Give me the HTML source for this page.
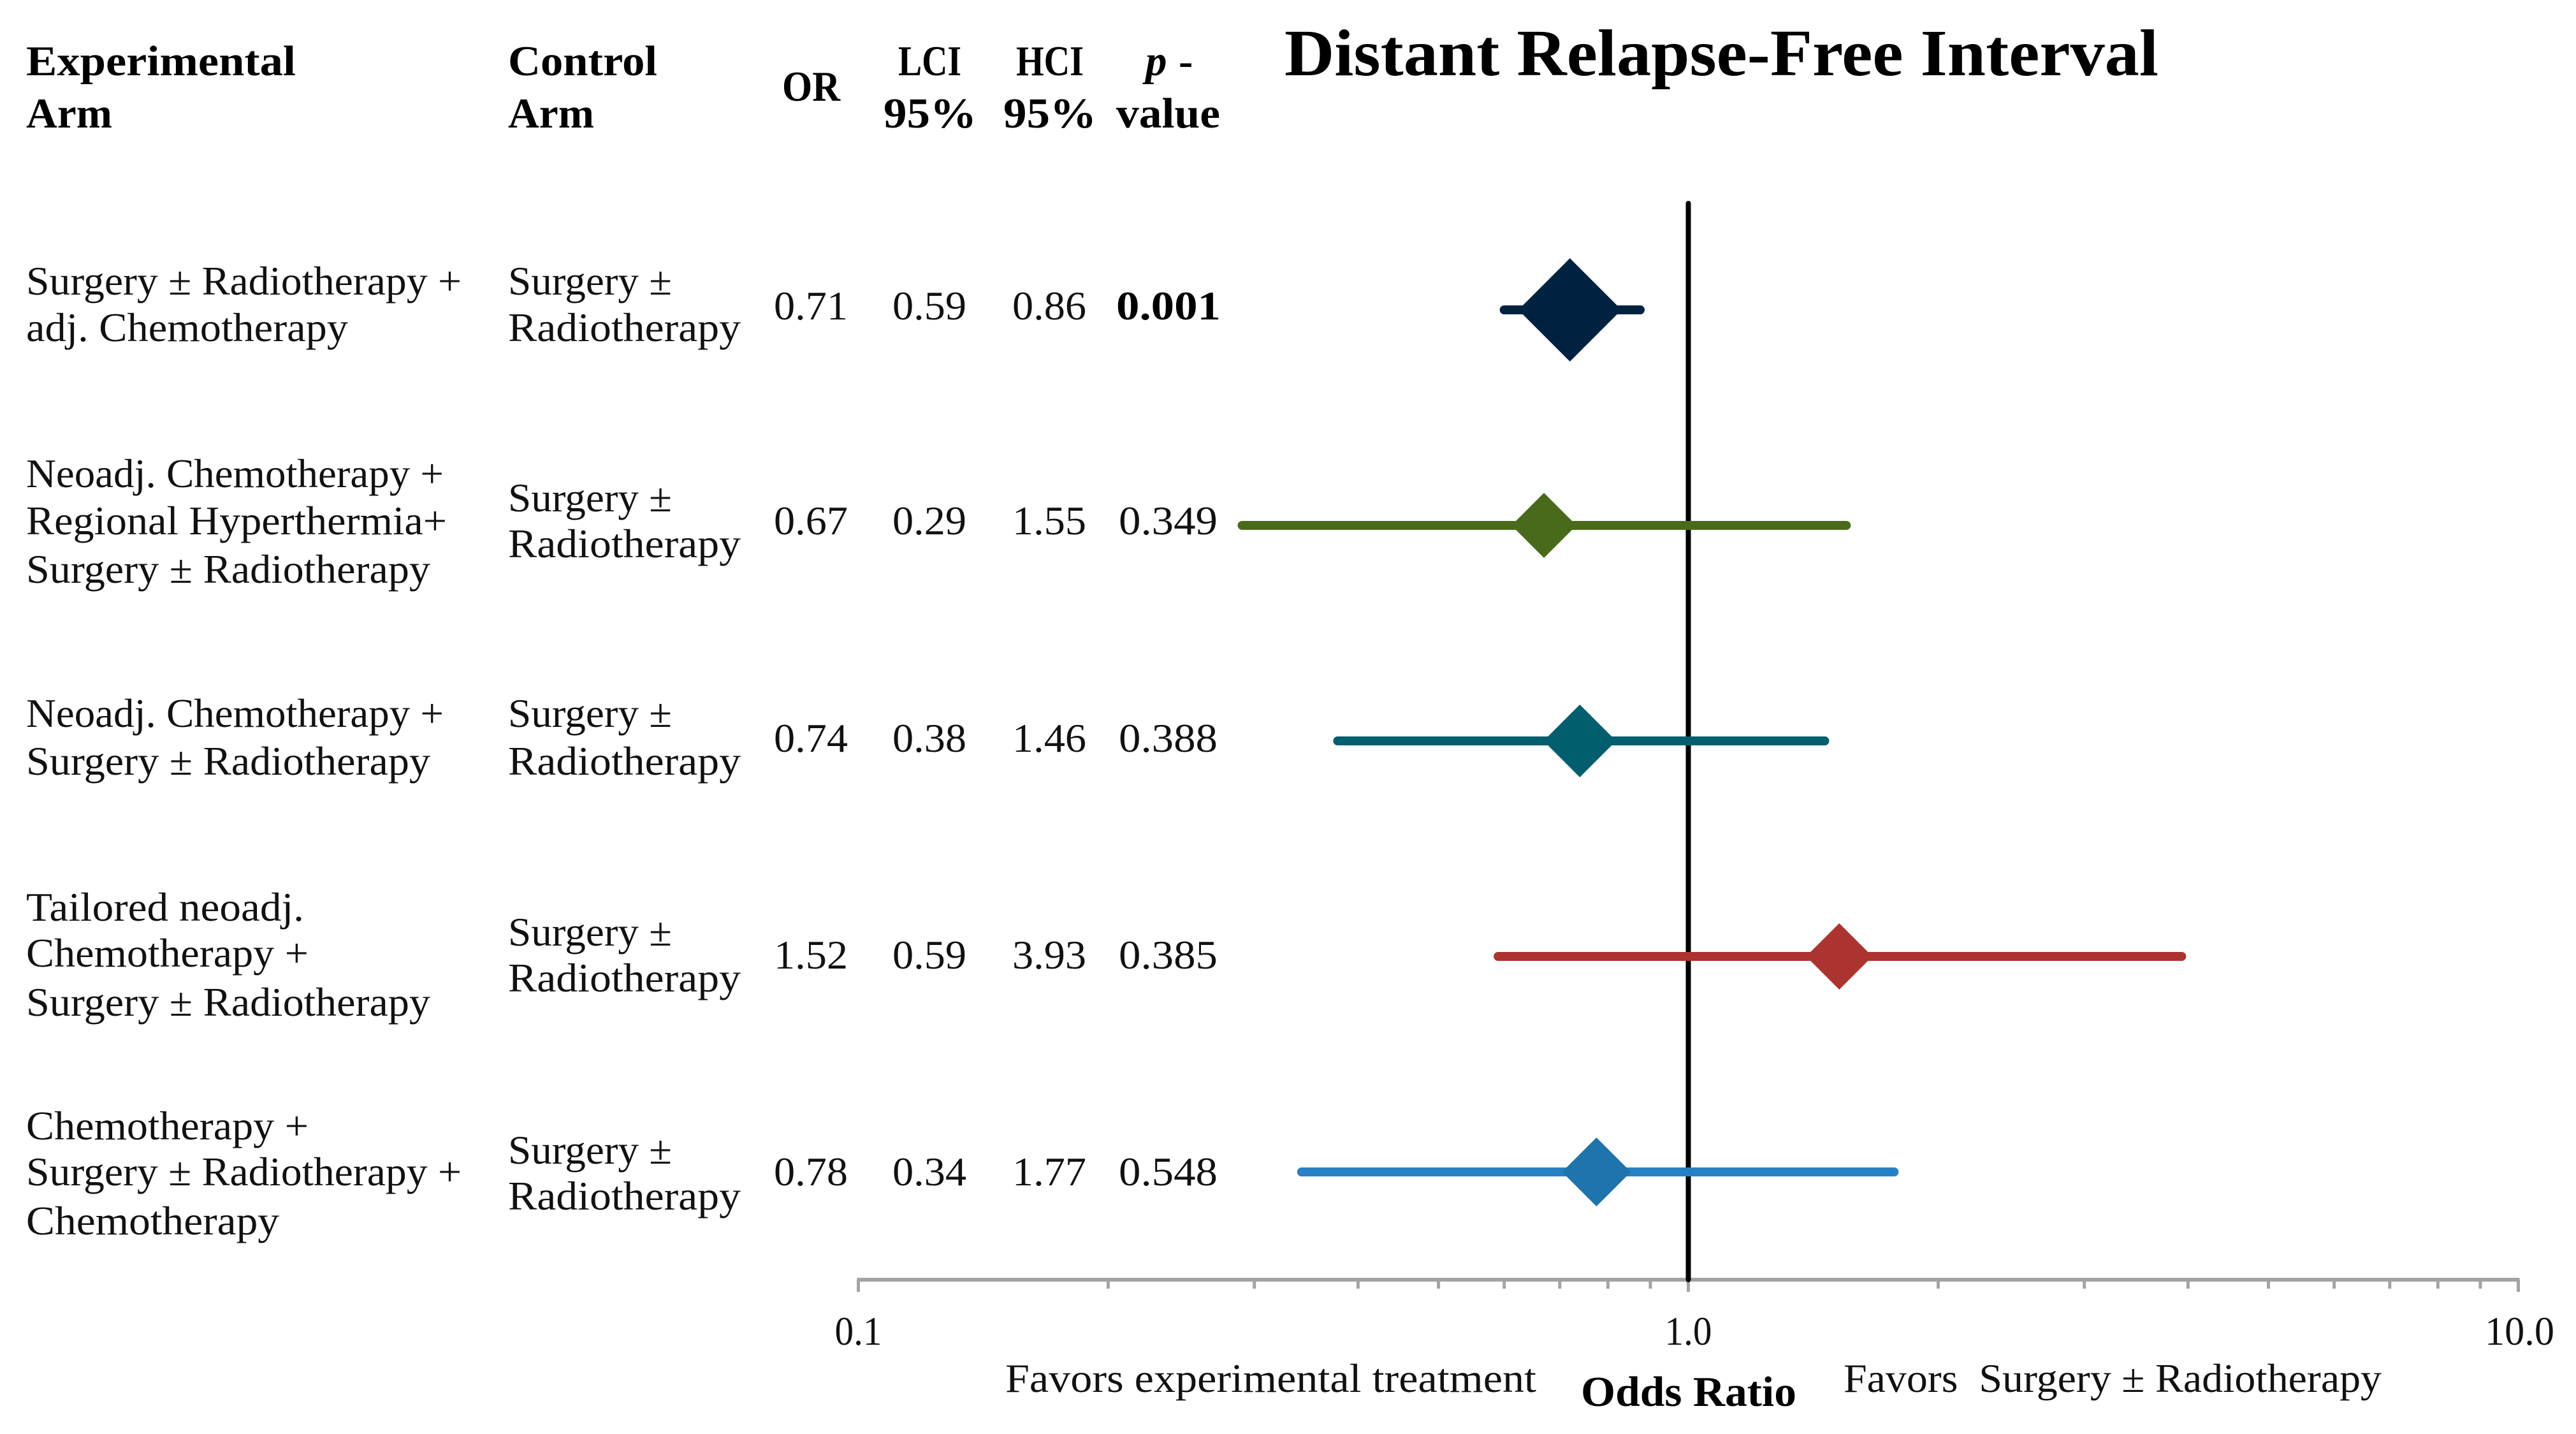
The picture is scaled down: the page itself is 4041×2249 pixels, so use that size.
<!DOCTYPE html>
<html lang="en">
<head>
<meta charset="utf-8">
<title>Distant Relapse-Free Interval forest plot</title>
<style>
html,body{margin:0;padding:0;background:#fff;width:4041px;height:2249px;overflow:hidden}
svg{display:block}
text{font-family:"Liberation Serif",serif;fill:#111}
.b{font-size:64px}
.h{font-size:67px;font-weight:700;fill:#000}
</style>
</head>
<body>
<svg id="chart" xmlns="http://www.w3.org/2000/svg" width="4041" height="2249" viewBox="0 0 4041 2249">
<rect width="4041" height="2249" fill="#fff"/>

<g>
<text class="h" x="41" y="118" textLength="423" lengthAdjust="spacingAndGlyphs">Experimental</text>
<text class="h" x="41" y="200" textLength="135" lengthAdjust="spacingAndGlyphs">Arm</text>
<text class="h" x="797" y="118" textLength="234" lengthAdjust="spacingAndGlyphs">Control</text>
<text class="h" x="797" y="200" textLength="135" lengthAdjust="spacingAndGlyphs">Arm</text>
<text class="h" x="1227" y="158" textLength="91" lengthAdjust="spacingAndGlyphs">OR</text>
<text class="h" x="1409" y="118" textLength="99" lengthAdjust="spacingAndGlyphs">LCI</text>
<text class="h" x="1386" y="200" textLength="146" lengthAdjust="spacingAndGlyphs">95%</text>
<text class="h" x="1594" y="118" textLength="106" lengthAdjust="spacingAndGlyphs">HCI</text>
<text class="h" x="1574" y="200" textLength="146" lengthAdjust="spacingAndGlyphs">95%</text>
<text class="h" x="1797" y="118" font-style="italic">p</text>
<text class="h" x="1849" y="118">-</text>
<text class="h" x="1751" y="200" textLength="163" lengthAdjust="spacingAndGlyphs">value</text>
</g>

<text x="2015" y="118" font-size="104" font-weight="700" style="fill:#000" textLength="1371" lengthAdjust="spacingAndGlyphs">Distant Relapse-Free Interval</text>

<g>
<text class="b" x="41" y="462" textLength="683" lengthAdjust="spacingAndGlyphs">Surgery ± Radiotherapy +</text>
<text class="b" x="41" y="535" textLength="505" lengthAdjust="spacingAndGlyphs">adj. Chemotherapy</text>
<text class="b" x="797" y="462" textLength="257" lengthAdjust="spacingAndGlyphs">Surgery ±</text>
<text class="b" x="797" y="535" textLength="365" lengthAdjust="spacingAndGlyphs">Radiotherapy</text>
<text class="b" x="1214" y="501" textLength="116" lengthAdjust="spacingAndGlyphs">0.71</text>
<text class="b" x="1400" y="501" textLength="116" lengthAdjust="spacingAndGlyphs">0.59</text>
<text class="b" x="1588" y="501" textLength="116" lengthAdjust="spacingAndGlyphs">0.86</text>
<text class="b" x="1751" y="501" font-weight="700" style="fill:#000" textLength="164" lengthAdjust="spacingAndGlyphs">0.001</text>
</g>

<g>
<text class="b" x="41" y="764" textLength="655" lengthAdjust="spacingAndGlyphs">Neoadj. Chemotherapy +</text>
<text class="b" x="41" y="838" textLength="660" lengthAdjust="spacingAndGlyphs">Regional Hyperthermia+</text>
<text class="b" x="41" y="914" textLength="634" lengthAdjust="spacingAndGlyphs">Surgery ± Radiotherapy</text>
<text class="b" x="797" y="802" textLength="257" lengthAdjust="spacingAndGlyphs">Surgery ±</text>
<text class="b" x="797" y="874" textLength="365" lengthAdjust="spacingAndGlyphs">Radiotherapy</text>
<text class="b" x="1214" y="838" textLength="116" lengthAdjust="spacingAndGlyphs">0.67</text>
<text class="b" x="1400" y="838" textLength="116" lengthAdjust="spacingAndGlyphs">0.29</text>
<text class="b" x="1588" y="838" textLength="116" lengthAdjust="spacingAndGlyphs">1.55</text>
<text class="b" x="1755" y="838" textLength="155" lengthAdjust="spacingAndGlyphs">0.349</text>
</g>

<g>
<text class="b" x="41" y="1140" textLength="655" lengthAdjust="spacingAndGlyphs">Neoadj. Chemotherapy +</text>
<text class="b" x="41" y="1215" textLength="634" lengthAdjust="spacingAndGlyphs">Surgery ± Radiotherapy</text>
<text class="b" x="797" y="1140" textLength="257" lengthAdjust="spacingAndGlyphs">Surgery ±</text>
<text class="b" x="797" y="1215" textLength="365" lengthAdjust="spacingAndGlyphs">Radiotherapy</text>
<text class="b" x="1214" y="1179" textLength="116" lengthAdjust="spacingAndGlyphs">0.74</text>
<text class="b" x="1400" y="1179" textLength="116" lengthAdjust="spacingAndGlyphs">0.38</text>
<text class="b" x="1588" y="1179" textLength="116" lengthAdjust="spacingAndGlyphs">1.46</text>
<text class="b" x="1755" y="1179" textLength="155" lengthAdjust="spacingAndGlyphs">0.388</text>
</g>

<g>
<text class="b" x="41" y="1444" textLength="436" lengthAdjust="spacingAndGlyphs">Tailored neoadj.</text>
<text class="b" x="41" y="1516" textLength="443" lengthAdjust="spacingAndGlyphs">Chemotherapy +</text>
<text class="b" x="41" y="1593" textLength="634" lengthAdjust="spacingAndGlyphs">Surgery ± Radiotherapy</text>
<text class="b" x="797" y="1483" textLength="257" lengthAdjust="spacingAndGlyphs">Surgery ±</text>
<text class="b" x="797" y="1555" textLength="365" lengthAdjust="spacingAndGlyphs">Radiotherapy</text>
<text class="b" x="1214" y="1519" textLength="116" lengthAdjust="spacingAndGlyphs">1.52</text>
<text class="b" x="1400" y="1519" textLength="116" lengthAdjust="spacingAndGlyphs">0.59</text>
<text class="b" x="1588" y="1519" textLength="116" lengthAdjust="spacingAndGlyphs">3.93</text>
<text class="b" x="1755" y="1519" textLength="155" lengthAdjust="spacingAndGlyphs">0.385</text>
</g>

<g>
<text class="b" x="41" y="1787" textLength="443" lengthAdjust="spacingAndGlyphs">Chemotherapy +</text>
<text class="b" x="41" y="1859" textLength="683" lengthAdjust="spacingAndGlyphs">Surgery ± Radiotherapy +</text>
<text class="b" x="41" y="1936" textLength="397" lengthAdjust="spacingAndGlyphs">Chemotherapy</text>
<text class="b" x="797" y="1825" textLength="257" lengthAdjust="spacingAndGlyphs">Surgery ±</text>
<text class="b" x="797" y="1897" textLength="365" lengthAdjust="spacingAndGlyphs">Radiotherapy</text>
<text class="b" x="1214" y="1859" textLength="116" lengthAdjust="spacingAndGlyphs">0.78</text>
<text class="b" x="1400" y="1859" textLength="116" lengthAdjust="spacingAndGlyphs">0.34</text>
<text class="b" x="1588" y="1859" textLength="116" lengthAdjust="spacingAndGlyphs">1.77</text>
<text class="b" x="1755" y="1859" textLength="155" lengthAdjust="spacingAndGlyphs">0.548</text>
</g>

<g id="axis"></g>
<g id="refgroup"></g>
<g id="marks"></g>

<text class="b" x="1577" y="2183" textLength="833" lengthAdjust="spacingAndGlyphs">Favors experimental treatment</text>
<text class="b" x="2892" y="2183" textLength="844" lengthAdjust="spacingAndGlyphs" xml:space="preserve" style="white-space:pre">Favors  Surgery ± Radiotherapy</text>
<text class="h" x="2480" y="2205" textLength="338" lengthAdjust="spacingAndGlyphs">Odds Ratio</text>
</svg>

<script>
// Chart data
var trials = ['adj-chemotherapy', 'neoadj-chemo-hyperthermia', 'neoadj-chemotherapy', 'tailored-neoadj-chemotherapy', 'periop-chemotherapy'];
var oddsRatio = [0.72, 0.67, 0.74, 1.52, 0.775];
var lowerCI = [0.6, 0.29, 0.378, 0.59, 0.342];
var upperCI = [0.875, 1.55, 1.46, 3.93, 1.77];
var markerHalfSize = [81, 51, 57, 52, 54];
var seriesColors = ['#002240', '#4a6a1b', '#005e6e', '#ab3330', '#2880c4'];
var markerColors = ['#002240', '#4a6a1b', '#005e6e', '#ab3330', '#1f74ac'];
var majorTicks = [0.1, 1, 10];
var majorTickLabels = ['0.1', '1.0', '10.0'];
var minorTicks = [0.2, 0.3, 0.4, 0.5, 0.6, 0.7, 0.8, 0.9, 2, 3, 4, 5, 6, 7, 8, 9];
var referenceValue = 1;

var NS = 'http://www.w3.org/2000/svg';
function xScale(v) { return 1346.5 + (Math.log10(v) + 1) * 1302; }
function yScale(i) { return 486 + i * 338; }
function make(tag, attrs, parent) {
  var el = document.createElementNS(NS, tag);
  for (var k in attrs) el.setAttribute(k, attrs[k]);
  parent.appendChild(el);
  return el;
}

var axisG = document.getElementById('axis');
var axisY = 2007;
var axisLine = make('line', {x1: xScale(0.1) - 2, x2: xScale(10) + 2, y1: axisY, y2: axisY, stroke: '#a3a3a3', 'stroke-width': 6}, axisG);



minorTicks.forEach(function (v) {
  var t = make('line', {x1: xScale(v), x2: xScale(v), y1: axisY, y2: 2021, stroke: '#a3a3a3', 'stroke-width': 5}, axisG);
  
  
});
majorTicks.forEach(function (v, i) {
  var t = make('line', {x1: xScale(v), x2: xScale(v), y1: axisY, y2: 2026, stroke: '#a3a3a3', 'stroke-width': 5}, axisG);
  
  
  var isLast = i === majorTicks.length - 1;
  var lab = make('text', {x: isLast ? 3952.5 : xScale(v), y: 2109, 'text-anchor': 'middle', 'font-size': 64, textLength: isLast ? 109 : 74, lengthAdjust: 'spacingAndGlyphs'}, axisG);
  
  
  lab.textContent = majorTickLabels[i];
});

var refG = document.getElementById('refgroup');
var refLine = make('line', {x1: xScale(referenceValue), x2: xScale(referenceValue), y1: 319, y2: axisY, stroke: '#000', 'stroke-width': 8, 'stroke-linecap': 'round'}, refG);



var marksG = document.getElementById('marks');
trials.forEach(function (name, i) {
  var y = yScale(i);
  var g = make('g', {}, marksG);
  
  
  var ci = make('line', {x1: xScale(lowerCI[i]), x2: xScale(upperCI[i]), y1: y, y2: y, stroke: seriesColors[i], 'stroke-width': 14, 'stroke-linecap': 'round'}, g);
  
  
  var cx = xScale(oddsRatio[i]);
  var s = markerHalfSize[i];
  var pts = [[cx, y - s], [cx + s, y], [cx, y + s], [cx - s, y]].map(function (p) { return p.join(','); }).join(' ');
  var d = make('polygon', {points: pts, fill: markerColors[i]}, g);
  
  
});
</script>
</body>
</html>
